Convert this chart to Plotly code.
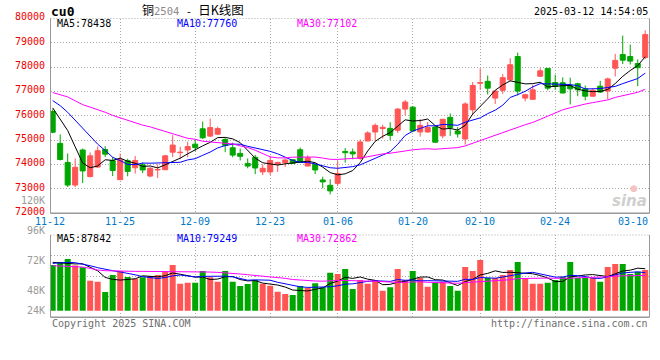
import plotly.graph_objects as go

# ---------------- data ----------------
dates = [
    "11-12", "11-13", "11-14", "11-15", "11-18", "11-19", "11-20", "11-21", "11-22", "11-25",
    "11-26", "11-27", "11-28", "11-29", "12-02", "12-03", "12-04", "12-05", "12-06", "12-09",
    "12-10", "12-11", "12-12", "12-13", "12-16", "12-17", "12-18", "12-19", "12-20", "12-23",
    "12-24", "12-25", "12-26", "12-27", "12-30", "12-31", "01-02", "01-03", "01-06", "01-07",
    "01-08", "01-09", "01-10", "01-13", "01-14", "01-15", "01-16", "01-17", "01-20", "01-21",
    "01-22", "01-23", "01-24", "01-27", "02-05", "02-06", "02-07", "02-10", "02-11", "02-12",
    "02-13", "02-14", "02-17", "02-18", "02-19", "02-20", "02-21", "02-24", "02-25", "02-26",
    "02-27", "02-28", "03-03", "03-04", "03-05", "03-06", "03-07", "03-10", "03-11", "03-12",
]

opens = [
    76180, 74870, 74090, 73160, 74600, 73510, 73900, 74620, 74160, 73380,
    74160, 73870, 73990, 73530, 73780, 73790, 74510, 74490, 74600, 74840,
    75470, 75170, 75250, 75030, 74690, 74460, 74050, 74300, 73700, 73700,
    74020, 74080, 74200, 74610, 73940, 74000, 73370, 73150, 73230, 74540,
    74520, 74250, 74970, 75340, 75480, 75490, 75410, 76280, 76360, 75340,
    75340, 75540, 75180, 75940, 75380, 75050, 76250, 77340, 77420, 76730,
    77050, 77480, 78440, 76730, 76680, 77630, 77950, 77370, 77360, 77250,
    77320, 77110, 76810, 77220, 77020, 77960, 78520, 78440, 78150, 78400,
]
highs = [
    76270, 75240, 74460, 74250, 74660, 74500, 74750, 74760, 74310, 74450,
    74240, 74350, 74090, 73900, 74010, 74400, 75210, 74730, 74940, 75050,
    75770, 75890, 75560, 75100, 74900, 74660, 74250, 74400, 74010, 74350,
    74120, 74250, 74210, 74700, 74380, 74050, 73500, 73400, 74150, 74680,
    74660, 75030, 75370, 75690, 75640, 75740, 76320, 76650, 76400, 75870,
    75750, 75600, 75860, 76100, 75540, 76560, 77390, 77960, 77660, 77030,
    77720, 78370, 78600, 76910, 77280, 77960, 77960, 77690, 77580, 77570,
    77360, 77250, 77140, 77440, 77570, 78550, 79300, 78930, 78320, 79510,
]
lows = [
    75290, 74170, 73080, 73080, 73240, 73470, 73860, 74310, 73530, 73380,
    73520, 73630, 73650, 73480, 73450, 73780, 74310, 74220, 74300, 74560,
    75050, 75130, 75240, 74510, 74300, 74170, 73850, 73610, 73570, 73570,
    73700, 73910, 74040, 74080, 73940, 73610, 73030, 72780, 73120, 74080,
    74220, 74200, 74960, 74970, 75070, 75000, 75300, 76020, 75340, 75150,
    75310, 74890, 75080, 75180, 75110, 74820, 76050, 77070, 76880, 76490,
    76910, 77410, 76840, 76600, 76660, 77590, 77050, 77070, 76930, 76470,
    76810, 76640, 76800, 76940, 76680, 77620, 78130, 78110, 77220, 78330,
]
closes = [
    75330, 74210, 73160, 73890, 73740, 74360, 74570, 74430, 73760, 74200,
    73720, 74170, 73780, 73850, 73800, 74360, 74800, 74510, 74740, 74700,
    75100, 75520, 75480, 74790, 74390, 74340, 73940, 73860, 73850, 74170,
    74090, 74190, 74050, 74090, 74280, 73780, 73290, 72920, 73630, 74490,
    74440, 74930, 75300, 75610, 75530, 75200, 76280, 76570, 75380, 75610,
    75520, 74920, 75860, 75520, 75260, 76490, 77250, 77370, 77140, 77020,
    77570, 78100, 77020, 76870, 77070, 77850, 77140, 77210, 76940, 77110,
    77070, 76810, 77050, 76980, 77520, 78280, 78290, 78250, 77980, 79340,
]
volumes = [
    95200, 101500, 107700, 94500, 90400, 62600, 60500, 38900, 74400, 82700,
    70200, 66700, 69500, 72300, 74400, 82000, 95200, 56300, 58400, 58400,
    82700, 69500, 60500, 82700, 60500, 51400, 55600, 63900, 56300, 52100,
    39600, 34800, 32700, 51400, 47300, 57000, 48700, 79200, 76500, 86900,
    45200, 63900, 56300, 63900, 41700, 48700, 86900, 63900, 82700, 68100,
    50000, 58400, 60500, 51400, 41700, 91000, 82700, 105600, 68100, 68100,
    74400, 84800, 101500, 68100, 56300, 56300, 58400, 63900, 70900, 101500,
    68100, 68100, 68100, 60500, 91000, 97300, 97300, 76500, 81300, 84800,
]

# moving-average values read off the picture where the window reaches back
# before the first visible day
ma5_head = [76330, 75880, 75400, 74730]
ma10_head = [76630, 76420, 76150, 75820, 75510, 75140, 74840, 74580, 74300]
ma30_head = [76960, 76880, 76780, 76620, 76460, 76360, 76260, 76150, 76020, 75920,
             75800, 75720, 75620, 75550, 75460, 75360, 75260, 75170, 75080, 75040,
             74960, 74930, 74900, 74890, 74850, 74770, 74700, 74590, 74450]
vol_ma5_head = [100800, 99400, 98000, 97500]
vol_ma10_head = [98700, 100100, 100800, 100100, 97300, 93800, 89700, 86200, 83400]
vol_ma30_head = [93800, 93100, 92400, 91700, 91000, 88300, 84800, 83400, 82700, 82000,
                 82000, 82000, 82000, 82000, 82000, 82000, 82000, 81300, 81300, 80600,
                 80600, 80600, 79900, 79200, 77800, 76500, 75000, 73700, 72300]

price_ma_labels = [("MA5", 78438), ("MA10", 77760), ("MA30", 77102)]
vol_ma_labels = [("MA5", 87842), ("MA10", 79249), ("MA30", 72862)]
price_ticks = [72000, 73000, 74000, 75000, 76000, 77000, 78000, 79000, 80000]
vol_tick_labels = ["120K", "96K", "72K", "48K", "24K"]
date_ticks = ["11-12", "11-25", "12-09", "12-23", "01-06", "01-20", "02-10", "02-24", "03-10"]
symbol = "cu0"
title_parts = ("铜", "2504", " - ", "日K线图")
timestamp = "2025-03-12 14:54:05"
copyright_text = "Copyright 2025 SINA.COM"
url_text = "http://finance.sina.com.cn"


def moving_average(values, n, head):
    out = list(head)
    for i in range(len(head), len(values)):
        out.append(sum(values[i - n + 1:i + 1]) / n)
    return out


idx = list(range(len(dates)))
ma_price = [moving_average(closes, 5, ma5_head),
            moving_average(closes, 10, ma10_head),
            moving_average(closes, 30, ma30_head)]
ma_vol = [moving_average(volumes, 5, vol_ma5_head),
          moving_average(volumes, 10, vol_ma10_head),
          moving_average(volumes, 30, vol_ma30_head)]

# ---------------- styles / layout constants ----------------
W, H = 660, 360
RED, GREEN = "#FF5555", "#00A600"
MA_COLORS = ["#000000", "#0000FF", "#FF00FF"]
MONO = "DejaVu Sans Mono"
GRID = "#a8a8a8"
BORDER = "#999999"
LEFT, RIGHT = 50.5, 649.5
MAIN_TOP, MAIN_BOT = 18.5, 213.3
VOL_TOP, VOL_BOT, VOL_BASE = 235.0, 317.3, 310.7
VOL_PER_PX = 2085
X_RANGE = [-0.29, 79.57]


def fx(px):
    return px / W


def fy(py):
    return 1 - py / H


vol_range = [-(VOL_BOT - VOL_BASE) * VOL_PER_PX, (VOL_BASE - VOL_TOP) * VOL_PER_PX]
vol_grid = [vol_range[0] + k * (vol_range[1] - vol_range[0]) / 4 for k in (1, 2, 3)]
grid_x = [dates.index(d) for d in date_ticks[1:-1]]

colors = [RED if c >= o else GREEN for o, c in zip(opens, closes)]

fig = go.Figure()

# wicks
for col in (RED, GREEN):
    xs, ys = [], []
    for i in idx:
        if colors[i] == col:
            xs += [i, i, None]
            ys += [lows[i], highs[i], None]
    fig.add_trace(go.Scatter(x=xs, y=ys, mode="lines", line=dict(color=col, width=1),
                             hoverinfo="skip", showlegend=False, xaxis="x", yaxis="y"))

# bodies
fig.add_trace(go.Bar(
    x=idx, y=[abs(c - o) for o, c in zip(opens, closes)],
    base=[min(o, c) for o, c in zip(opens, closes)],
    width=0.67, marker=dict(color=colors, line=dict(color=colors, width=1)),
    hoverinfo="skip", showlegend=False, xaxis="x", yaxis="y"))

for series, col in zip(ma_price, MA_COLORS):
    fig.add_trace(go.Scatter(x=idx, y=series, mode="lines", line=dict(color=col, width=1),
                             hoverinfo="skip", showlegend=False, xaxis="x", yaxis="y"))

# volume
fig.add_trace(go.Bar(x=idx, y=volumes, width=0.8, marker=dict(color=colors, line=dict(width=0)),
                     hoverinfo="skip", showlegend=False, xaxis="x2", yaxis="y2"))
for series, col in zip(ma_vol, MA_COLORS):
    fig.add_trace(go.Scatter(x=idx, y=series, mode="lines", line=dict(color=col, width=1),
                             hoverinfo="skip", showlegend=False, xaxis="x2", yaxis="y2"))

ann = []


def text(x, y, s, color="#000", size=10, anchor="left", family=MONO, xref="paper",
         yref="paper", xshift=0, yshift=0):
    ann.append(dict(x=x if xref != "paper" else fx(x), y=y if yref != "paper" else fy(y),
                    xref=xref, yref=yref, text=s, showarrow=False, xanchor=anchor,
                    yanchor="middle", font=dict(family=family, size=size, color=color),
                    xshift=xshift, yshift=yshift))


text(49, 11.2, "<b>%s</b>" % symbol, size=13)
text(140, 9.3, ("%s<span style='font-family:\"DejaVu Sans Mono\";font-size:10.5px;color:#8a8a8a'>%s</span>"
                "<span style='font-family:\"DejaVu Sans Mono\";font-size:10.5px'>%s</span>"
                "<span style='font-size:12.5px'>%s</span>") % title_parts,
     size=12, family="Noto Sans CJK SC")
text(RIGHT + 0.5, 11.5, timestamp, anchor="right")

label_x = [55, 175, 295]
for (name, val), lx, col in zip(price_ma_labels, label_x, MA_COLORS):
    text(lx, 24.0, "%s:%d" % (name, val), color=col)
for (name, val), lx, col in zip(vol_ma_labels, label_x, MA_COLORS):
    text(lx, 238.5, "%s:%d" % (name, val), color=col)

# price axis labels (sit slightly above their grid lines, as in the original)
for p in price_ticks:
    text(46.8, p, str(p), color="#EE0000", anchor="right", yref="y", yshift=1.7)

for k, d in enumerate(date_ticks):
    if k == 0:
        text(X_RANGE[0], 221.9, d, color="#0078C8", anchor="center", xref="x")
    elif k == len(date_ticks) - 1:
        text(X_RANGE[1], 221.9, d, color="#0078C8", anchor="right", xref="x")
    else:
        text(dates.index(d), 221.9, d, color="#0078C8", anchor="center", xref="x")

for lab, py in zip(vol_tick_labels, [200.5, 230.8, 260.7, 290.3, 310.5]):
    text(46.8, py, lab, color="#9a9a9a", anchor="right")

text(50, 323.7, copyright_text, color="#6e6e6e")
text(RIGHT, 323.7, url_text, color="#6e6e6e", anchor="right")
text(649, 201, "<b><i>sina</i></b>", color="#cfcfcf", size=15, anchor="right", family="DejaVu Sans")
text(634, 188, "●", color="#f4c4c4", size=9, anchor="center", family="DejaVu Sans")

shapes = []


def line(x0, y0, x1, y1, dash="solid", width=1, color=BORDER):
    shapes.append(dict(type="line", xref="paper", yref="paper", x0=fx(x0), y0=fy(y0),
                       x1=fx(x1), y1=fy(y1), line=dict(color=color, width=width, dash=dash)))


for top, bot in ((MAIN_TOP, MAIN_BOT), (VOL_TOP, VOL_BOT)):
    line(LEFT, top, RIGHT, top, dash="1px,2px", color=GRID)
    line(LEFT, top, LEFT, bot)
    line(RIGHT, top, RIGHT, bot)
    line(LEFT, bot, RIGHT, bot, width=1.5)

axis_common = dict(zeroline=False, showline=False, ticks="", fixedrange=True)
fig.update_layout(
    width=W, height=H, margin=dict(l=0, r=0, t=0, b=0),
    paper_bgcolor="white", plot_bgcolor="white", showlegend=False,
    xaxis=dict(domain=[fx(LEFT), fx(RIGHT)], range=X_RANGE, tickvals=grid_x,
               showticklabels=False, showgrid=True, gridcolor=GRID, griddash="1px,2px",
               gridwidth=1, anchor="y", **axis_common),
    yaxis=dict(domain=[fy(MAIN_BOT), fy(MAIN_TOP)], range=[72000, 80000], tickvals=price_ticks,
               showticklabels=False, showgrid=True, gridcolor=GRID,
               griddash="1px,2px", gridwidth=1, anchor="x", **axis_common),
    xaxis2=dict(domain=[fx(LEFT), fx(RIGHT)], range=X_RANGE, tickvals=grid_x, matches="x",
                showticklabels=False, showgrid=True, gridcolor=GRID, griddash="1px,2px",
                gridwidth=1, anchor="y2", **axis_common),
    yaxis2=dict(domain=[fy(VOL_BOT), fy(VOL_TOP)], range=vol_range, tickvals=vol_grid,
                showticklabels=False, showgrid=True, gridcolor=GRID, griddash="1px,2px",
                gridwidth=1, anchor="x2", **axis_common),
    annotations=ann, shapes=shapes,
)

fig.write_html("out.html", config={"displayModeBar": False},
               post_script="document.body.style.margin='0';")
